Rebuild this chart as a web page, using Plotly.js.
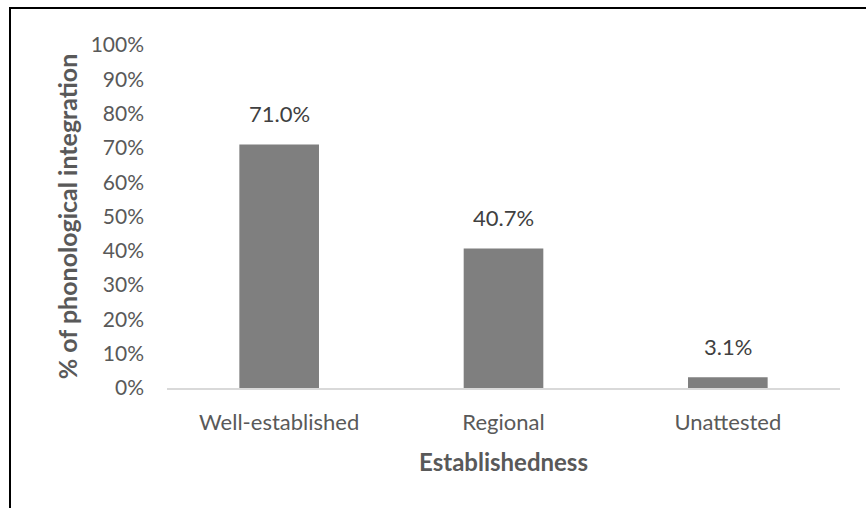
<!DOCTYPE html>
<html>
<head>
<meta charset="utf-8">
<script src="https://cdn.plot.ly/plotly-3.0.1.min.js"></script>
<style>
html,body{margin:0;padding:0;width:866px;height:508px;overflow:hidden;background:#fff;}
#frame{position:absolute;left:9px;top:7px;width:900px;height:540px;border-left:2px solid #000;border-top:2px solid #000;box-sizing:border-box;}
#chart{position:absolute;left:0;top:0;width:866px;height:508px;}
</style>
</head>
<body>
<div id="frame"></div>
<div id="chart"></div>
<script>
const categories = ["Well-established", "Regional", "Unattested"];
const values = [0.710, 0.407, 0.031];
const labels = ["71.0%", "40.7%", "3.1%"];
const yTickVals = [0, 0.1, 0.2, 0.3, 0.4, 0.5, 0.6, 0.7, 0.8, 0.9, 1.0];
const yTickText = ["0%", "10%", "20%", "30%", "40%", "50%", "60%", "70%", "80%", "90%", "100%"];

const font = "Lato, 'Noto Sans', sans-serif";

const trace = {
  type: "bar",
  x: categories,
  y: values,
  marker: {color: "#7f7f7f"},
  width: 0.355,
  hoverinfo: "skip"
};

const annotations = categories.map((c, i) => ({
  x: c, y: values[i], xref: "x", yref: "y",
  text: labels[i], showarrow: false,
  yanchor: "bottom", yshift: 15,
  font: {family: font, size: 22, color: "#404040"}
}));

const layout = {
  width: 866, height: 508,
  margin: {l: 167, r: 26, t: 45, b: 120},
  paper_bgcolor: "rgba(0,0,0,0)",
  plot_bgcolor: "rgba(0,0,0,0)",
  showlegend: false,
  xaxis: {
    type: "category",
    showgrid: false, zeroline: false,
    showline: true, linecolor: "#d9d9d9", linewidth: 1.5,
    ticks: "", ticklabelstandoff: 14,
    tickfont: {family: font, size: 22, color: "#595959"},
    title: {text: "Establishedness", standoff: 20, font: {family: font, size: 24, color: "#595959", weight: "bold"}}
  },
  yaxis: {
    range: [0, 1],
    tickvals: yTickVals, ticktext: yTickText,
    showgrid: false, zeroline: false, showline: false,
    ticks: "", ticklabelstandoff: 22,
    tickfont: {family: font, size: 21, color: "#595959"},
    title: {text: "% of phonological integration", standoff: 5, font: {family: font, size: 25, color: "#595959", weight: "bold"}}
  },
  annotations: annotations
};

Plotly.newPlot("chart", [trace], layout, {displayModeBar: false, staticPlot: true});
</script>
</body>
</html>
